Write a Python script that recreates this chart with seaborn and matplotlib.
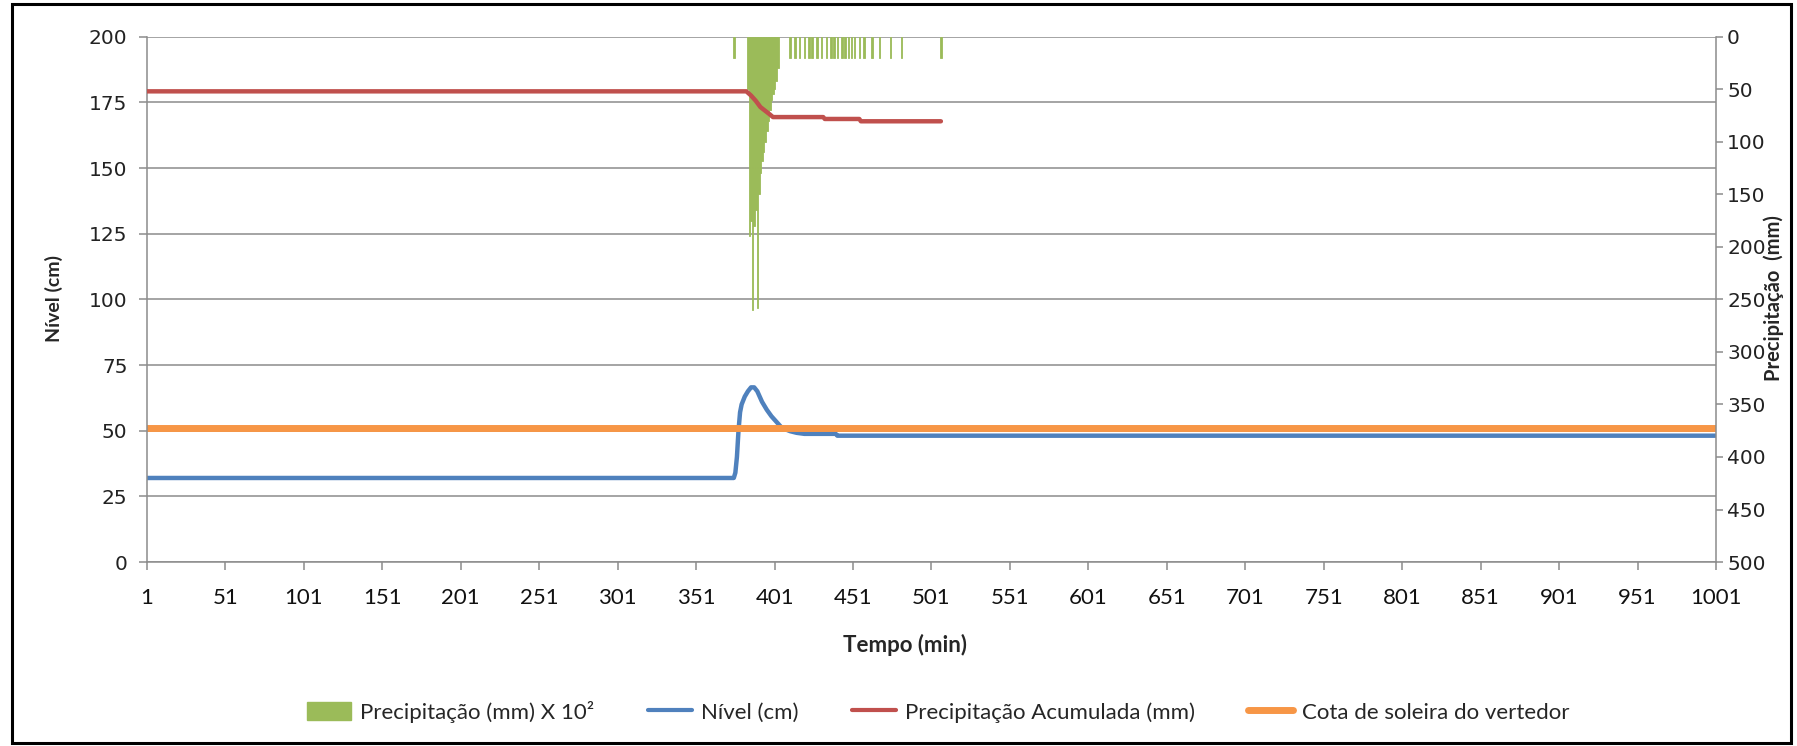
import matplotlib
matplotlib.use("Agg")
import matplotlib.pyplot as plt
import seaborn as sns
import pandas as pd
from matplotlib.lines import Line2D
from matplotlib.patches import Patch, Rectangle

# Nível (cm) - breakpoints (left axis)
nivel_min = [1, 375, 376, 377, 378, 379, 380, 382, 384, 386, 388, 390, 393, 396,
             399, 402, 405, 408, 411, 415, 420, 440, 441, 1001]
nivel_cm = [32, 32, 34, 40, 50, 57, 60, 63, 65, 66.5, 66.5, 65, 61, 58,
            55.5, 53.5, 51.5, 50.5, 49.8, 49.2, 48.8, 48.8, 48.1, 48.1]

# Precipitação acumulada (mm) - right axis
acum_min = [1, 383, 386, 389, 392, 395, 398, 400, 432, 433, 455, 456, 507]
acum_mm = [52, 52, 56, 61, 67, 70.5, 74, 76.5, 76.5, 78.3, 78.3, 80.5, 80.5]

# Cota de soleira do vertedor (cm)
cota_min = [1, 1001]
cota_cm = [51, 51]

# Precipitação (mm) x 10^2 - right axis, bars
chuva_min = [375,
             384, 385, 386, 387, 388, 389, 390, 391, 392, 393,
             394, 395, 396, 397, 398, 399, 400, 401, 402, 403,
             411, 414, 417, 420, 423, 425, 428, 431, 434, 437, 439, 441,
             444, 446, 448, 450, 452, 455, 458, 463, 468, 475, 482, 507]
chuva_val = [20,
             50, 190, 175, 260, 180, 165, 258, 150, 130, 118,
             110, 100, 90, 80, 70, 60, 55, 50, 42, 30,
             20, 20, 20, 20, 20, 20, 20, 20, 20, 20, 20, 20,
             20, 20, 20, 20, 20, 20, 20, 20, 20, 20, 20, 20]

x_ticks = list(range(1, 1002, 50))
left_ticks = list(range(0, 201, 25))
right_ticks = list(range(0, 501, 50))

GREEN = '#9BBB59'
BLUE = '#4F81BD'
RED = '#C0504D'
ORANGE = '#F79646'
GRID = '#8C8C8C'

sns.set_theme(style='white')
plt.rcParams['font.family'] = ['Lato', 'DejaVu Sans']

fig = plt.figure(figsize=(17.97, 7.46), dpi=100)
ax = fig.add_axes([0.0818, 0.2466, 0.8731, 0.7042])
ax2 = ax.twinx()

df_nivel = pd.DataFrame({'t': nivel_min, 'v': nivel_cm})
df_cota = pd.DataFrame({'t': cota_min, 'v': cota_cm})
df_acum = pd.DataFrame({'t': acum_min, 'v': acum_mm})
df_chuva = pd.DataFrame({'t': chuva_min, 'v': chuva_val})

sns.lineplot(data=df_nivel, x='t', y='v', ax=ax, color=BLUE, linewidth=3.2)
sns.lineplot(data=df_cota, x='t', y='v', ax=ax, color=ORANGE, linewidth=5)

sns.barplot(data=df_chuva, x='t', y='v', ax=ax2, color=GREEN, native_scale=True,
            errorbar=None, width=1.0, saturation=1, edgecolor=GREEN, linewidth=0.6)
sns.lineplot(data=df_acum, x='t', y='v', ax=ax2, color=RED, linewidth=3.2)

# left axis
ax.set_xlim(1, 1001)
ax.set_ylim(0, 200)
ax.set_yticks(left_ticks)
ax.set_xticks(x_ticks)
ax.set_xticklabels([str(t) for t in x_ticks], fontsize=16, family='Lato', color='#111111')
ax.set_yticklabels([str(t) for t in left_ticks], fontsize=14.5, family='DejaVu Sans', color='#222222')
ax.yaxis.grid(True, color=GRID, linewidth=1.1)
ax.xaxis.grid(False)
ax.set_xlabel('')
ax.set_ylabel('')

# right axis (inverted)
ax2.set_ylim(500, 0)
ax2.set_yticks(right_ticks)
ax2.set_yticklabels([str(t) for t in right_ticks], fontsize=14.5, family='DejaVu Sans', color='#222222')
ax2.set_xlim(1, 1001)
ax2.set_xlabel('')
ax2.set_ylabel('')
ax2.grid(False)

for a in (ax, ax2):
    for side in ('left', 'right', 'bottom'):
        a.spines[side].set_color(GRID)
        a.spines[side].set_linewidth(1.1)
    a.spines['top'].set_visible(False)
    a.tick_params(direction='out', length=6, width=1.1, color=GRID)
ax.spines['right'].set_visible(False)
ax2.spines['left'].set_visible(False)
ax2.spines['bottom'].set_visible(False)
ax.tick_params(axis='y', left=True, pad=8)
ax.tick_params(axis='x', bottom=True, pad=13)
ax2.tick_params(axis='y', right=True, length=5, pad=3)

fig.text(0.030, 0.60, 'Nível (cm)', rotation=90, ha='center', va='center',
         fontsize=14, fontweight='bold', family='Lato')
fig.text(0.987, 0.60, 'Precipitação  (mm)', rotation=90, ha='center', va='center',
         fontsize=14.5, fontweight='bold', family='Lato')
fig.text(0.5035, 0.135, 'Tempo (min)', ha='center', va='center',
         fontsize=16, fontweight='bold', family='Lato')

handles = [Patch(color=GREEN), Line2D([], [], color=BLUE, lw=3),
           Line2D([], [], color=RED, lw=3), Line2D([], [], color=ORANGE, lw=5)]
labels = ['Precipitação (mm) X 10²', 'Nível (cm)',
          'Precipitação Acumulada (mm)', 'Cota de soleira do vertedor']
fig.legend(handles, labels, loc='center', bbox_to_anchor=(0.522, 0.046), ncol=4,
           frameon=False, handlelength=2.0, handleheight=0.9,
           columnspacing=2.4, handletextpad=0.4, prop={'family': 'Lato', 'size': 16})

fig.patches.append(Rectangle((0.0065, 0.004), 0.990, 0.99, transform=fig.transFigure,
                             fill=False, edgecolor='black', linewidth=2.2))

fig.savefig('out.png', dpi=100)
